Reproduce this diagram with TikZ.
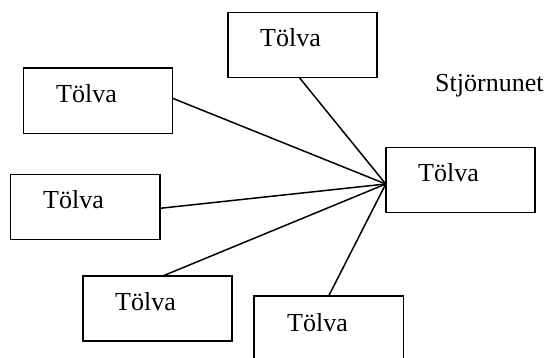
\documentclass[tikz,border=0pt]{standalone}
\usepackage{fontspec}
\setmainfont{Liberation Serif}
\begin{document}
\begin{tikzpicture}[x=1pt,y=-1pt,
  box/.style={draw=black,line width=1.6pt,minimum width=149.3pt,minimum height=65.3pt,inner sep=0pt,outer sep=0pt},
  lbl/.style={anchor=base west,inner sep=0pt,font=\fontsize{26}{30}\selectfont},
  link/.style={draw=black,line width=1.5pt}]
\useasboundingbox (0,0) rectangle (548,358);
\node[box] (T) at (302.4,45) {};
\node[box] (B1) at (98,100.8) {};
\node[box] (B2) at (85.3,207) {};
\node[box] (R) at (460.4,180) {};
\node[box] (B3) at (157.5,308.4) {};
\node[box] (B4) at (328.8,328.4) {};
\node[lbl] (tT) at (260,46.7) {Tölva};
\node[lbl] (t1) at (56,103) {Tölva};
\node[lbl] (t2) at (43,208) {Tölva};
\node[lbl] (tR) at (418,181.7) {Tölva};
\node[lbl] (t3) at (115,310.7) {Tölva};
\node[lbl] (t4) at (287,331.7) {Tölva};
\node[lbl] (title) at (435,91.7) {Stjörnunet};
\coordinate (hub) at ([yshift=-4pt]R.west);
\draw[link] (hub) -- ([yshift=2.5pt]B1.east);
\draw[link] (hub) -- ([yshift=-1.3pt]B2.east);
\draw[link] (hub) -- ([xshift=-3pt]T.south);
\draw[link] (hub) -- ([xshift=5.8pt]B3.north);
\draw[link] (hub) -- (B4.north);
\end{tikzpicture}
\end{document}
